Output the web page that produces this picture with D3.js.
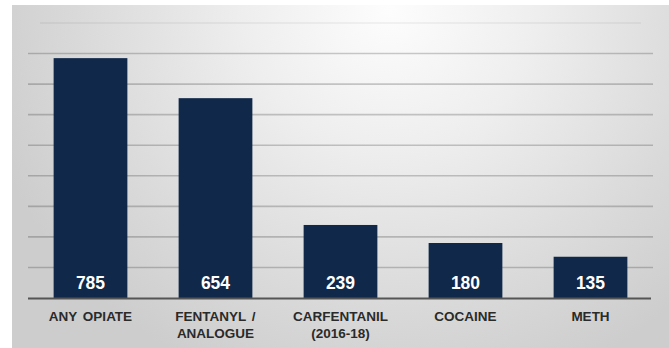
<!DOCTYPE html>
<html><head><meta charset="utf-8">
<script src="https://cdn.jsdelivr.net/npm/d3@7"></script>
<style>html,body{margin:0;padding:0;background:#fff;}svg{display:block;}</style>
</head><body>
<svg id="chart" width="669" height="348"></svg>
<script>
const categories = [["ANY OPIATE"], ["FENTANYL /", "ANALOGUE"], ["CARFENTANIL", "(2016-18)"], ["COCAINE"], ["METH"]];
const values = [785, 654, 239, 180, 135];
const gridTicks = [100, 200, 300, 400, 500, 600, 700, 800, 900];

const svg = d3.select("#chart");
const defs = svg.append("defs");
const grad = defs.append("radialGradient").attr("id", "bg")
  .attr("gradientUnits", "userSpaceOnUse")
  .attr("cx", 390).attr("cy", 10).attr("r", 420)
  .attr("gradientTransform", "translate(390,10) scale(1,0.95) translate(-390,-10)");
grad.append("stop").attr("offset", "0").attr("stop-color", "#fdfdfd");
grad.append("stop").attr("offset", "0.35").attr("stop-color", "#eeeeee");
grad.append("stop").attr("offset", "0.75").attr("stop-color", "#d9d9d9");
grad.append("stop").attr("offset", "1").attr("stop-color", "#cdcdcd");

svg.append("rect").attr("x", 12).attr("y", 5).attr("width", 657).attr("height", 343).attr("fill", "url(#bg)");

const x = d3.scaleBand().domain(d3.range(values.length)).range([28, 653]).paddingInner(0.41).paddingOuter(0.205);
const y = d3.scaleLinear().domain([0, 900]).range([298, 23]);

// gridlines
svg.append("g").selectAll("line").data(gridTicks).join("line")
  .attr("x1", d => d === 900 ? 40 : 28).attr("x2", d => d === 900 ? 641 : 653)
  .attr("y1", d => y(d)).attr("y2", d => y(d))
  .attr("stroke", d => d === 900 ? "#000" : "#000")
  .attr("stroke-opacity", d => d === 900 ? 0.06 : 0.2)
  .attr("stroke-width", 1.6);

// bars
svg.append("g").selectAll("rect").data(values).join("rect")
  .attr("x", (d, i) => x(i)).attr("width", x.bandwidth())
  .attr("y", d => y(d)).attr("height", d => y(0) - y(d))
  .attr("fill", "#10284a");

// baseline
svg.append("line").attr("x1", 28).attr("x2", 651).attr("y1", y(0) + 0.5).attr("y2", y(0) + 0.5)
  .attr("stroke", "#555").attr("stroke-width", 2);

// value labels
svg.append("g").selectAll("text").data(values).join("text")
  .attr("x", (d, i) => x(i) + x.bandwidth() / 2).attr("y", 288.5)
  .attr("text-anchor", "middle")
  .attr("font-family", "Liberation Sans, Arial, sans-serif")
  .attr("font-weight", "bold").attr("font-size", 17.5)
  .attr("fill", "#fff")
  .text(d => d);

// category labels
const cat = svg.append("g").selectAll("text").data(categories).join("text")
  .attr("x", (d, i) => x(i) + x.bandwidth() / 2).attr("y", 321)
  .attr("text-anchor", "middle")
  .attr("font-family", "Liberation Sans, Arial, sans-serif")
  .attr("font-weight", "bold").attr("font-size", 13.5)
  .attr("fill", "#2a2a2a")
  .attr("word-spacing", 2);
cat.selectAll("tspan").data(d => d).join("tspan")
  .attr("x", function () { return d3.select(this.parentNode).attr("x"); })
  .attr("dy", (d, j) => j === 0 ? 0 : 17)
  .text(d => d);
</script>
</body></html>
